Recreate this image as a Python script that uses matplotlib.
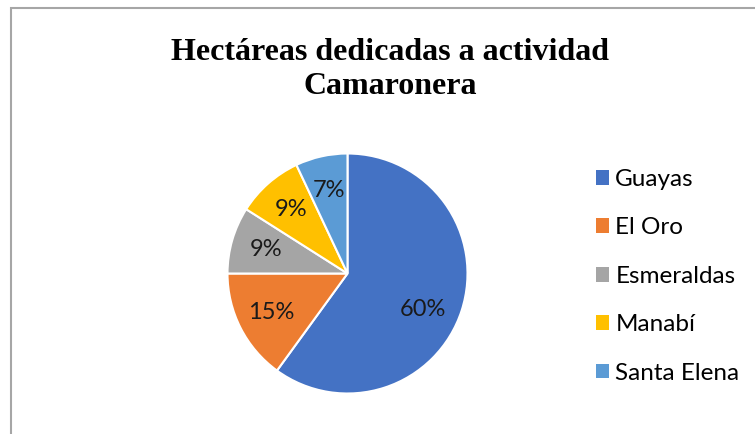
import matplotlib
matplotlib.use("Agg")
import matplotlib.pyplot as plt
from matplotlib.patches import Rectangle, Patch

# data
regions = ["Guayas", "El Oro", "Esmeraldas", "Manabí", "Santa Elena"]
shares = [60, 15, 9, 9, 7]
colors = ["#4472C4", "#ED7D31", "#A5A5A5", "#FFC000", "#5B9BD5"]

W, H = 755, 434
fig = plt.figure(figsize=(W / 100, H / 100), dpi=100)

# chart area border (extends past the right and bottom edges)
fig.patches.append(Rectangle((11 / W, -0.1), 1.2, 1.1 - 8 / H, transform=fig.transFigure,
                             fill=False, edgecolor="#A6A6A6", linewidth=1.5))

fig.text(390 / W, 1 - 69.5 / H, "Hectáreas dedicadas a actividad\nCamaronera",
         ha="center", va="center", fontsize=23, fontweight="bold",
         family="Liberation Serif", linespacing=1.22)

cx, cy, r = 347.5, 273.5, 120
ax = fig.add_axes([(cx - r) / W, (H - cy - r) / H, 2 * r / W, 2 * r / H])
wedges, texts, autotexts = ax.pie(
    shares, colors=colors, startangle=90, counterclock=False,
    autopct="%1.0f%%", pctdistance=0.71,
    wedgeprops=dict(edgecolor="white", linewidth=1.5),
    textprops=dict(fontsize=17, family="Lato", color="#1a1a1a"))
# Excel puts the big slice label a bit lower than the bisector
autotexts[0].set_position((0.63, -0.30))
ax.set_xlim(-1, 1)
ax.set_ylim(-1, 1)
ax.set_aspect("equal")
ax.axis("off")

handles = [Patch(facecolor=c, edgecolor="none") for c in colors]
fig.legend(handles, regions, loc="upper left", bbox_to_anchor=(574 / W, 1 - 147 / H),
           frameon=False, prop=dict(family="Lato", size=17.5),
           handlelength=0.55, handleheight=0.55, handletextpad=0.25, labelspacing=1.13)

fig.savefig("out.png", dpi=100)
